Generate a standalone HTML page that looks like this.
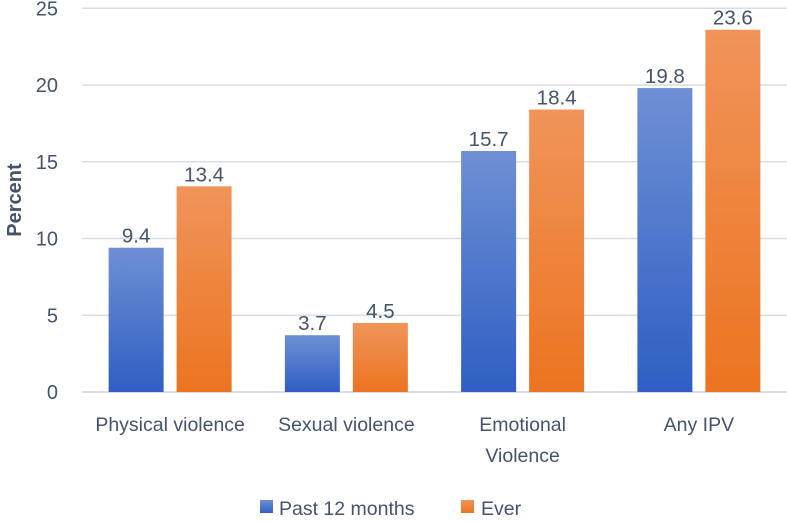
<!DOCTYPE html>
<html><head><meta charset="utf-8"><style>
body{margin:0;background:#fff;}
text{font-family:"Liberation Sans",sans-serif;fill:#44546a;}
</style></head><body>
<svg id="c" width="787" height="518">
<defs>
<linearGradient id="gb" x1="0" y1="0" x2="0" y2="1"><stop offset="0" stop-color="#6e8fd4"/><stop offset="1" stop-color="#2f5fc4"/></linearGradient>
<linearGradient id="go" x1="0" y1="0" x2="0" y2="1"><stop offset="0" stop-color="#f0945a"/><stop offset="1" stop-color="#ec7420"/></linearGradient>
</defs>
<g id="grid"></g><g id="bars"></g><g id="labels"></g>
<text transform="translate(21,200) rotate(-90)" text-anchor="middle" font-size="20" font-weight="bold">Percent</text>
<rect x="260" y="500" width="13" height="13" fill="url(#gb)"/>
<text x="279" y="515" font-size="19.5">Past 12 months</text>
<rect x="461" y="500" width="13" height="13" fill="url(#go)"/>
<text x="481" y="515" font-size="19.5">Ever</text>
</svg>
<script>
const categories=[["Physical violence"],["Sexual violence"],["Emotional","Violence"],["Any IPV"]];
const past12=[9.4,3.7,15.7,19.8];
const ever=[13.4,4.5,18.4,23.6];
const ticks=[0,5,10,15,20,25];
const NS="http://www.w3.org/2000/svg";
const x0=82,x1=787,yb=392,ppu=15.35,cw=(x1-x0)/categories.length,bw=55,gap=13;
const y=v=>yb-v*ppu;
function mk(tag,attrs,parent,txt){const e=document.createElementNS(NS,tag);for(const k in attrs)e.setAttribute(k,attrs[k]);if(txt!==undefined)e.textContent=txt;document.getElementById(parent).appendChild(e);return e;}
ticks.forEach(t=>{
const l=mk('line',{x1:x0,x2:x1,y1:y(t),y2:y(t),stroke:'#d9dde6','stroke-width':t===0?2:1.5},'grid');


const tx=mk('text',{x:58,y:y(t)+7,'text-anchor':'end','font-size':'20'},'grid',String(t));


});
categories.forEach((c,i)=>{
const cx=x0+cw*(i+0.5);
[[past12[i],'url(#gb)',cx-gap/2-bw,'past-12-months'],[ever[i],'url(#go)',cx+gap/2,'ever']].forEach(([v,f,bx,s])=>{
const r=mk('rect',{x:bx,y:y(v),width:bw,height:yb-y(v),fill:f},'bars');


const t=mk('text',{x:bx+bw/2,y:y(v)-5,'text-anchor':'middle','font-size':'20.5'},'labels',v.toFixed(1));


});
c.forEach((ln,j)=>{
const t=mk('text',{x:cx,y:431+j*31,'text-anchor':'middle','font-size':'19.5'},'labels',ln);


});
});
</script>
</body></html>
